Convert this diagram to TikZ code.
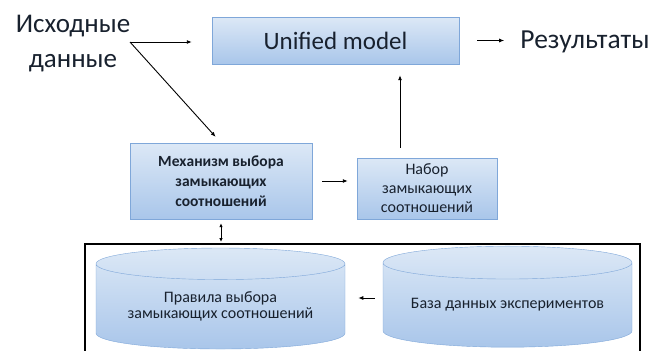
\documentclass[tikz,border=0pt]{standalone}
\usepackage{fontspec}
\setmainfont{Carlito}
\usetikzlibrary{arrows.meta}
\usetikzlibrary{positioning}
\usetikzlibrary{shapes.geometric}
\usetikzlibrary{shadows}
\definecolor{boxtop}{HTML}{DCE8F6}
\definecolor{boxbot}{HTML}{A9C6EA}
\definecolor{boxline}{HTML}{7FA7D9}
\definecolor{ink}{HTML}{18212E}
\tikzset{
	box/.style={draw=boxline, top color=boxtop, bottom color=boxbot, align=center, text=ink, inner sep=0pt,
		drop shadow={opacity=.2, shadow xshift=.8pt, shadow yshift=-1.2pt}},
	base/.style={cylinder, shape border rotate=90, aspect=.17, draw=boxline, top color=boxtop, bottom color=boxbot,
		align=center, text=ink, inner sep=0pt, minimum width=249pt, minimum height=101pt, font=\fontsize{16}{16}\selectfont},
	arr/.style={-{Latex[length=5pt,width=4pt]}, line width=.9pt},
	dbl/.style={{Latex[length=4pt,width=3.5pt]}-{Latex[length=4pt,width=3.5pt]}, line width=.9pt},
}

\begin{document}
\begin{tikzpicture}[x=1pt,y=-1pt]
		\useasboundingbox (0,0) rectangle (654,351);
		\node[box, minimum width=247pt, minimum height=47pt, font=\fontsize{25}{28}\selectfont] (um) at (335.5,40.5) {Unified model};
		\node[text=ink, align=center, inner sep=0pt, font=\fontsize{27}{35}\selectfont] (src) at (73,44) {Исходные\\данные};
		\node[text=ink, inner sep=0pt, font=\fontsize{27.5}{30}\selectfont] (res) at (585,42) {Результаты};
		\node[box, minimum width=182pt, minimum height=76pt, font=\bfseries\fontsize{15.5}{20}\selectfont] (mech) at (221,181) {Механизм выбора\\замыкающих\\соотношений};
		\node[box, minimum width=140pt, minimum height=61pt, font=\fontsize{16}{19}\selectfont] (set) at (427,188.5) {Набор\\замыкающих\\соотношений};
		\node[base] (rules) at (220.5,306.5) {Правила выбора\\замыкающих соотношений};
		\node[base] (expdb) at (507.5,305) {База данных экспериментов};
		\coordinate (fork) at (130,42);
		\coordinate (ftop) at (221,244);
		\draw[line width=2pt] (85,360) |- (640,244) -- (640,360);
		\draw[arr, shorten >=20pt] (fork) -- (fork -| um.west);
		\draw[arr, shorten >=8pt] (fork) -- (mech.north);
		\draw[arr, shorten <=10pt, shorten >=11pt] ([xshift=-27pt]set.north) -- ([xshift=-27pt]set.north |- um.south);
		\draw[arr, shorten <=10pt, shorten >=9pt] (mech.east) -- (mech.east -| set.west);
		\draw[arr, shorten <=18pt, shorten >=16pt] (um.east) -- (um.east -| res.west);
		\draw[dbl, shorten <=4pt, shorten >=2pt] (mech.south) -- (ftop);
		\draw[arr, shorten <=8pt, shorten >=13pt] ([yshift=7pt]expdb.west) -- ([yshift=7pt]expdb.west -| rules.east);
	\end{tikzpicture}
\end{document}
